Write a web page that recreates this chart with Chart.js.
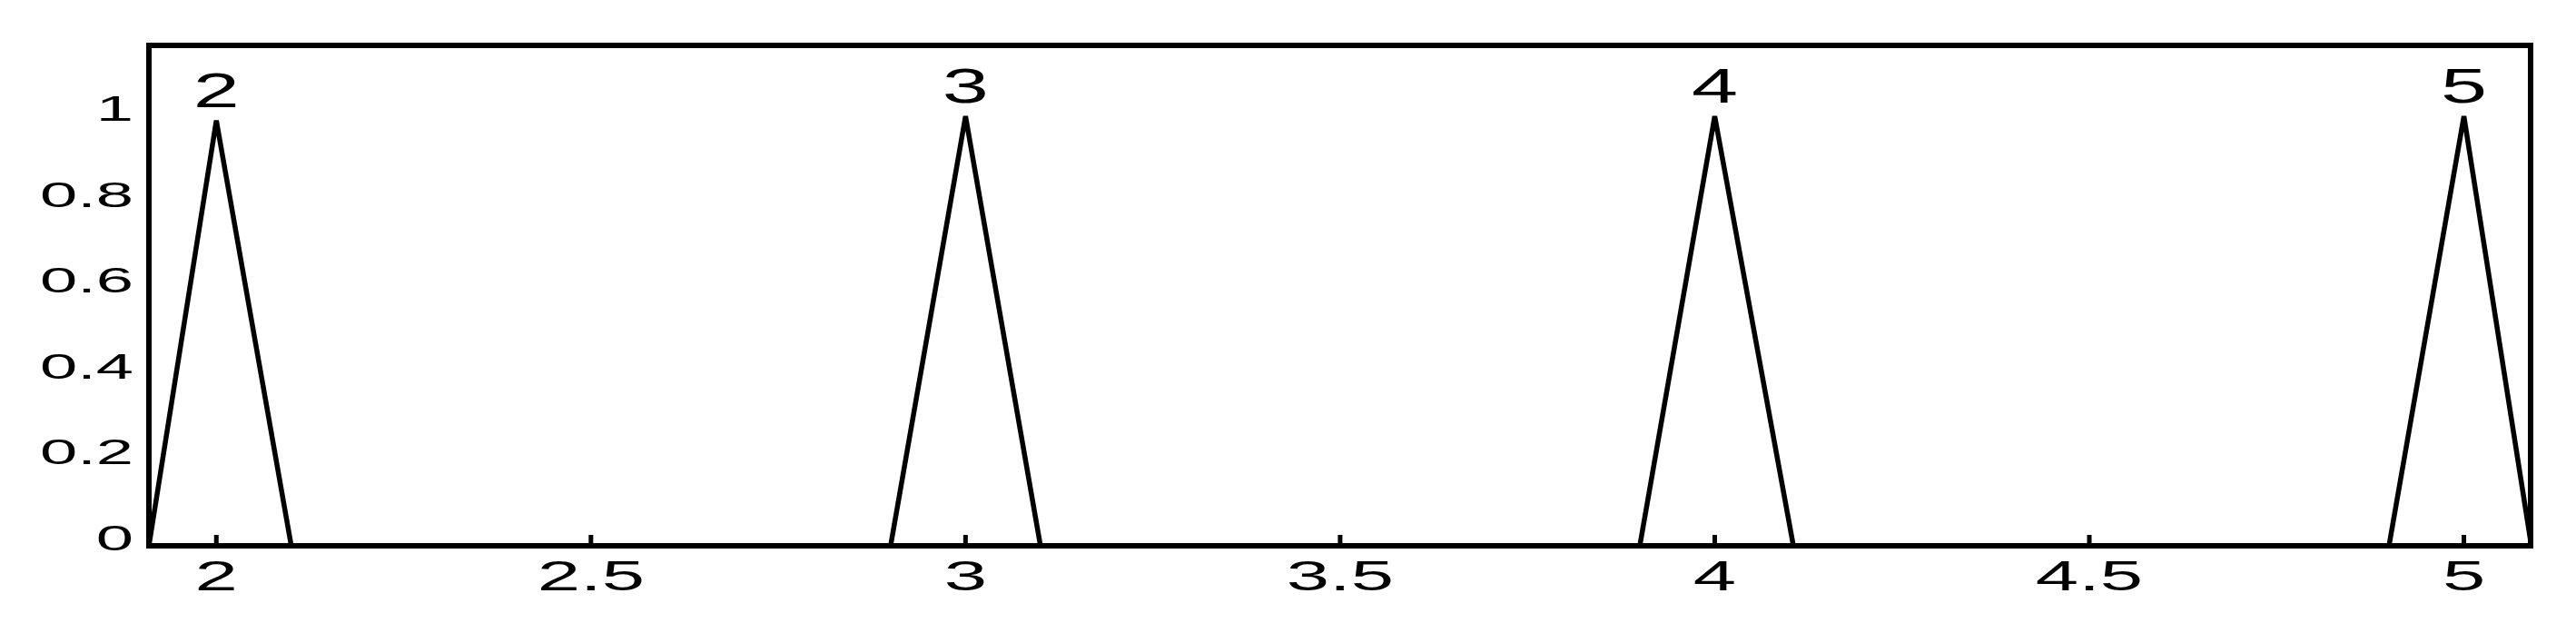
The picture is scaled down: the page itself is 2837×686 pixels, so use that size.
<!DOCTYPE html>
<html>
<head>
<meta charset="utf-8">
<script src="https://cdn.jsdelivr.net/npm/chart.js@4/dist/chart.umd.min.js"></script>
<style>
    html, body { margin: 0; padding: 0; background: #fff; }
    canvas { display: block; }
</style>
</head>
<body>
<canvas id="myChart" width="2837" height="686"></canvas>
<script>
// series: four narrow triangles
const xValues = [1.91, 2, 2.1, 2.9, 3, 3.1, 3.9, 4, 4.105, 4.9, 5, 5.09];
const yValues = [0, 0.99, 0, 0, 1, 0, 0, 1, 0, 0, 1, 0];

// labels above each peak
const peakX = [2, 3, 4, 5];
const peakY = [0.99, 1, 1, 1];
const peakLabels = ['2', '3', '4', '5'];

// axis ticks
const xTicks = [2, 2.5, 3, 3.5, 4, 4.5, 5];
const xTickLabels = ['2', '2.5', '3', '3.5', '4', '4.5', '5'];
const yTicks = [0, 0.2, 0.4, 0.6, 0.8, 1];
const yTickLabels = ['0', '0.2', '0.4', '0.6', '0.8', '1'];

const FONT = '"Liberation Sans", Arial, sans-serif';

function wideText(ctx, text, x, y, size, stretch, align) {
    ctx.save();
    ctx.font = size + 'px ' + FONT;
    ctx.fillStyle = '#000';
    ctx.textAlign = align;
    ctx.textBaseline = 'alphabetic';
    ctx.translate(x, y);
    ctx.scale(stretch, 1);
    ctx.fillText(text, 0, 0);
    ctx.restore();
}

const framePlugin = {
    id: 'frame',
    afterDatasetsDraw(chart) {
        const ctx = chart.ctx;
        const area = chart.chartArea;
        const xs = chart.scales.x;
        const ys = chart.scales.y;

        ctx.save();
        ctx.strokeStyle = '#000';
        ctx.lineWidth = 6;
        ctx.strokeRect(area.left, area.top, area.right - area.left, area.bottom - area.top);

        // x tick marks point inward
        ctx.lineWidth = 5;
        ctx.beginPath();
        xTicks.forEach(v => {
            const px = xs.getPixelForValue(v);
            ctx.moveTo(px, area.bottom);
            ctx.lineTo(px, area.bottom - 12);
        });
        ctx.stroke();
        ctx.restore();

        xTicks.forEach((v, i) => {
            wideText(ctx, xTickLabels[i], xs.getPixelForValue(v), area.bottom + 49, 46, 1.85, 'center');
        });
        yTicks.forEach((v, i) => {
            wideText(ctx, yTickLabels[i], area.left - 17, ys.getPixelForValue(v) + 5, 38, 1.95, 'right');
        });
        peakX.forEach((v, i) => {
            wideText(ctx, peakLabels[i], xs.getPixelForValue(v), ys.getPixelForValue(peakY[i]) - 15, 54, 1.7, 'center');
        });
    }
};

function createChart(context) {
    const points = xValues.map((x, i) => ({ x: x, y: yValues[i] }));
    const chartInstance = new Chart(context, {
        type: 'scatter',
        data: {
            datasets: [{
                data: points,
                showLine: true,
                borderColor: '#000',
                borderWidth: 5.5,
                borderJoinStyle: 'bevel',
                pointRadius: 0,
                fill: false
            }]
        },
        options: {
            responsive: false,
            animation: false,
            devicePixelRatio: 1,
            layout: { padding: { left: 164, right: 50, top: 50, bottom: 85 } },
            plugins: { legend: { display: false }, tooltip: { enabled: false } },
            scales: {
                x: { type: 'linear', min: 1.91, max: 5.089, display: false },
                y: { type: 'linear', min: 0, max: 1.165, display: false }
            }
        },
        plugins: [framePlugin]
    });
}

createChart('myChart');
</script>
</body>
</html>
